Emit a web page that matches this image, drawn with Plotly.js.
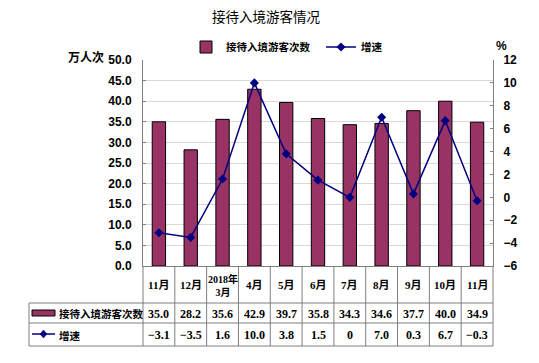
<!DOCTYPE html>
<html>
<head>
<meta charset="utf-8">
<script src="https://cdn.plot.ly/plotly-3.0.1.min.js"></script>
<style>html,body{margin:0;padding:0;background:#fff;}#chart{width:539px;height:363px;}</style>
</head>
<body>
<div id="chart"></div>
<script>
// ---- data ----
const categories = ["11月", "12月", "2018年<br>3月", "4月", "5月", "6月", "7月", "8月", "9月", "10月", "11月"];
const visitors = [35.0, 28.2, 35.6, 42.9, 39.7, 35.8, 34.3, 34.6, 37.7, 40.0, 34.9];
const growth = [-3.1, -3.5, 1.6, 10.0, 3.8, 1.5, 0, 7.0, 0.3, 6.7, -0.3];
const seriesNames = ["接待入境游客次数", "增速"];
const chartTitle = "接待入境游客情况";
const leftUnit = "万人次";
const rightUnit = "%";

// ---- geometry helpers (plot area in px) ----
const W = 539, H = 363;
const L = 143, R = 493, T = 60, B = 266;
const pw = R - L, ph = B - T;
const px = v => (v - L) / pw;       // pixel x -> paper
const py = v => (B - v) / ph;       // pixel y -> paper

const idx = categories.map((_, i) => i);
const BAR = "#993366", LINE = "#000080", TBL = "#7f7f7f";
const cjk = "'Noto Sans CJK SC', sans-serif";
const num = "'Liberation Sans', Arial, sans-serif";
const tnum = "'Liberation Serif', 'Noto Sans CJK SC', serif";

const fmt1 = v => (v === 0 ? "0" : (v < 0 ? "\u2212" + Math.abs(v).toFixed(1) : v.toFixed(1)));

const traces = [
  {
    type: "bar", x: idx, y: visitors, name: seriesNames[0], width: 0.42,
    marker: {color: BAR, line: {color: "#000", width: 1}},
    legend: "legend", hoverinfo: "y"
  },
  {
    type: "scatter", mode: "lines+markers", x: idx, y: growth, name: seriesNames[1], yaxis: "y2",
    line: {color: LINE, width: 1.5},
    marker: {symbol: "diamond", size: 7, color: LINE},
    legend: "legend2", hoverinfo: "y"
  }
];

const shapes = [];
const annotations = [];
const tl = (x0, y0, x1, y1) => shapes.push({type: "line", xref: "paper", yref: "paper",
  x0: px(x0), y0: py(y0), x1: px(x1), y1: py(y1), line: {color: TBL, width: 1}});

// table lines
const tLeft = 29, r1 = 303, r2 = 323, r3 = 346;
tl(tLeft, r1, R, r1);
tl(tLeft, r2, R, r2);
tl(tLeft, r3, R, r3);
tl(tLeft, r1, tLeft, r3);
for (let i = 0; i <= categories.length; i++) {
  const xp = L + i * pw / categories.length;
  tl(xp, B, xp, r3);
}

// category labels and table values
categories.forEach((c, i) => {
  const multi = c.indexOf("<br>") >= 0;
  annotations.push({xref: "x", yref: "paper", x: i, y: py(285), text: c, showarrow: false,
    yanchor: "middle", xanchor: "center",
    font: {family: tnum, size: multi ? 10 : 11, color: "#000", weight: "bold"}});
  annotations.push({xref: "x", yref: "paper", x: i, y: py(313.5), text: visitors[i].toFixed(1), showarrow: false,
    yanchor: "middle", xanchor: "center",
    font: {family: tnum, size: 12, color: "#000", weight: "bold"}});
  annotations.push({xref: "x", yref: "paper", x: i, y: py(335), text: fmt1(growth[i]), showarrow: false,
    yanchor: "middle", xanchor: "center",
    font: {family: tnum, size: 12, color: "#000", weight: "bold"}});
});

// row labels with keys
shapes.push({type: "rect", xref: "paper", yref: "paper", x0: px(32), x1: px(55), y0: py(316), y1: py(310),
  fillcolor: BAR, line: {color: "#000", width: 1}});
shapes.push({type: "line", xref: "paper", yref: "paper", x0: px(32), x1: px(55), y0: py(334), y1: py(334),
  line: {color: LINE, width: 1.5}});
shapes.push({type: "path", xref: "paper", yref: "paper", xsizemode: "pixel", ysizemode: "pixel",
  xanchor: px(43.5), yanchor: py(334), path: "M0,4 L3.5,0 L0,-4 L-3.5,0 Z",
  fillcolor: LINE, line: {color: LINE, width: 0.5}});
annotations.push({xref: "paper", yref: "paper", x: px(57), y: py(313.5), text: seriesNames[0], showarrow: false,
  xanchor: "left", yanchor: "middle", font: {family: cjk, size: 10.5, color: "#000", weight: "bold"}});
annotations.push({xref: "paper", yref: "paper", x: px(57), y: py(335), text: seriesNames[1], showarrow: false,
  xanchor: "left", yanchor: "middle", font: {family: cjk, size: 10.5, color: "#000", weight: "bold"}});

// axis unit labels
annotations.push({xref: "paper", yref: "paper", x: px(86), y: py(56), text: leftUnit, showarrow: false,
  xanchor: "center", yanchor: "middle", font: {family: cjk, size: 12, color: "#000", weight: "bold"}});
annotations.push({xref: "paper", yref: "paper", x: px(501), y: py(46), text: rightUnit, showarrow: false,
  xanchor: "center", yanchor: "middle", font: {family: num, size: 12, color: "#000", weight: "bold"}});

const axisFont = {family: num, size: 12, color: "#000", weight: "bold"};
const legendFont = {family: cjk, size: 10.5, color: "#000", weight: "bold"};

const layout = {
  width: W, height: H,
  margin: {l: L, r: W - R, t: T, b: H - B, pad: 0},
  paper_bgcolor: "#fff", plot_bgcolor: "#fff",
  title: {text: chartTitle, x: 266 / W, xanchor: "center", y: 1 - 17 / H, yanchor: "middle",
    font: {family: cjk, size: 13.5, color: "#000"}},
  showlegend: true,
  legend: {orientation: "h", x: px(186), xanchor: "left", y: py(47), yanchor: "middle",
    font: legendFont, bgcolor: "rgba(0,0,0,0)", itemwidth: 30},
  legend2: {orientation: "h", x: px(321), xanchor: "left", y: py(47), yanchor: "middle",
    font: legendFont, bgcolor: "rgba(0,0,0,0)", itemwidth: 30},
  bargap: 0.58,
  xaxis: {range: [-0.5, categories.length - 0.5], showticklabels: false, ticks: "",
    showgrid: false, zeroline: false, showline: true, linecolor: TBL, linewidth: 1, fixedrange: true},
  yaxis: {range: [0, 50], dtick: 5, tick0: 0, tickformat: ".1f", showline: true, linecolor: TBL, linewidth: 1,
    ticks: "inside", ticklen: 3, tickcolor: TBL, gridcolor: "#d9d9d9", gridwidth: 1, zeroline: false,
    tickfont: axisFont, ticklabelstandoff: 8},
  yaxis2: {range: [-6, 12], dtick: 2, tick0: -6, overlaying: "y", side: "right", showgrid: false, zeroline: false,
    showline: true, linecolor: TBL, linewidth: 1, ticks: "inside", ticklen: 3, tickcolor: TBL,
    tickfont: axisFont, ticklabelstandoff: 7},
  shapes: shapes,
  annotations: annotations
};

Plotly.newPlot("chart", traces, layout, {staticPlot: true, displayModeBar: false});
</script>
</body>
</html>
